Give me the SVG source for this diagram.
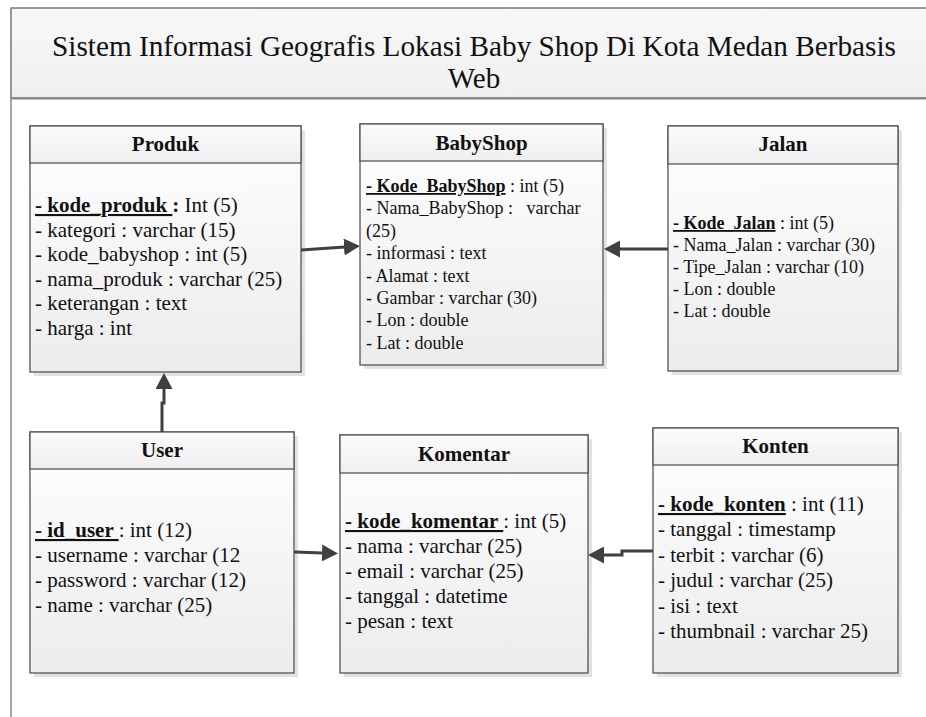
<svg xmlns="http://www.w3.org/2000/svg" width="926" height="717" viewBox="0 0 926 717">
  <style>
    text { font-family: "Liberation Serif", "Times New Roman", serif; fill: #111; white-space: pre; }
    .title { font-size: 29px; }
    .hdr { font-size: 21px; font-weight: bold; text-anchor: middle; }
    .f21 { font-size: 21px; }
    .f18 { font-size: 18px; }
    .pk { font-weight: bold; text-decoration: underline; }
    .b { font-weight: bold; }
    .box { fill: url(#bodyGrad); stroke: #555; stroke-width: 1.3; }
    .head { fill: url(#headGrad); stroke: #555; stroke-width: 1.3; }
    .shadow { fill: #e2e2e2; }
    .conn { fill: none; stroke: #404040; stroke-width: 3; marker-end: url(#arrow); }
  </style>
  <defs>
    <linearGradient id="bodyGrad" x1="0" y1="0" x2="0" y2="1">
      <stop offset="0" stop-color="#ffffff"/>
      <stop offset="1" stop-color="#ececec"/>
    </linearGradient>
    <linearGradient id="headGrad" x1="0" y1="0" x2="0" y2="1">
      <stop offset="0" stop-color="#fbfbfb"/>
      <stop offset="1" stop-color="#efefef"/>
    </linearGradient>
    <linearGradient id="titleGrad" x1="0" y1="0" x2="0" y2="1">
      <stop offset="0" stop-color="#f8f8f8"/>
      <stop offset="1" stop-color="#f0f0f0"/>
    </linearGradient>
    <marker id="arrow" viewBox="0 0 16 17" refX="1" refY="8.5" markerWidth="16" markerHeight="17" markerUnits="userSpaceOnUse" orient="auto">
      <path d="M0,0 L16,8.5 L0,17 z" fill="#404040"/>
    </marker>
  </defs>

  <!-- page frame and title band -->
  <g id="frame">
    <rect x="11" y="8" width="925" height="90" fill="url(#titleGrad)" stroke="#777" stroke-width="1.5"/>
    <line x1="11" y1="98" x2="11" y2="720" stroke="#888" stroke-width="1.5"/>
    <line x1="11" y1="98.5" x2="926" y2="98.5" stroke="#888" stroke-width="2"/>
    <text class="title" x="474" y="56" text-anchor="middle" textLength="844" lengthAdjust="spacingAndGlyphs">Sistem Informasi Geografis Lokasi Baby Shop Di Kota Medan Berbasis</text>
    <text class="title" x="474" y="88" text-anchor="middle">Web</text>
  </g>

  <!-- Produk -->
  <g id="produk">
    <rect class="shadow" x="34" y="130" width="271" height="246"/>
    <rect class="box" x="30" y="126" width="271" height="246"/>
    <rect class="head" x="30" y="126" width="271" height="37"/>
    <text class="hdr" x="165.5" y="151">Produk</text>
    <text class="f21" x="35" y="212"><tspan class="pk">- kode_produk </tspan><tspan class="b">:</tspan> Int (5)</text>
    <text class="f21" x="35" y="236.6">- kategori : varchar (15)</text>
    <text class="f21" x="35" y="261.2">- kode_babyshop : int (5)</text>
    <text class="f21" x="35" y="285.8">- nama_produk : varchar (25)</text>
    <text class="f21" x="35" y="310.4">- keterangan : text</text>
    <text class="f21" x="35" y="335">- harga : int</text>
  </g>

  <!-- BabyShop -->
  <g id="babyshop">
    <rect class="shadow" x="364" y="128" width="243" height="241"/>
    <rect class="box" x="360" y="124" width="243" height="241"/>
    <rect class="head" x="360" y="124" width="243" height="37"/>
    <text class="hdr" x="481.5" y="150">BabyShop</text>
    <text class="f18" x="366" y="192"><tspan class="pk">- Kode_BabyShop</tspan> : int (5)</text>
    <text class="f18" x="366" y="214.4">- Nama_BabyShop :   varchar</text>
    <text class="f18" x="366" y="236.8">(25)</text>
    <text class="f18" x="366" y="259.2">- informasi : text</text>
    <text class="f18" x="366" y="281.6">- Alamat : text</text>
    <text class="f18" x="366" y="304">- Gambar : varchar (30)</text>
    <text class="f18" x="366" y="326.4">- Lon : double</text>
    <text class="f18" x="366" y="348.8">- Lat : double</text>
  </g>

  <!-- Jalan -->
  <g id="jalan">
    <rect class="shadow" x="672" y="130" width="230" height="245"/>
    <rect class="box" x="668" y="126" width="230" height="245"/>
    <rect class="head" x="668" y="126" width="230" height="38"/>
    <text class="hdr" x="783" y="151">Jalan</text>
    <text class="f18" x="673" y="229"><tspan class="pk">- Kode_Jalan</tspan> : int (5)</text>
    <text class="f18" x="673" y="251">- Nama_Jalan : varchar (30)</text>
    <text class="f18" x="673" y="273">- Tipe_Jalan : varchar (10)</text>
    <text class="f18" x="673" y="295">- Lon : double</text>
    <text class="f18" x="673" y="317">- Lat : double</text>
  </g>

  <!-- User -->
  <g id="user">
    <rect class="shadow" x="34" y="436" width="264" height="241"/>
    <rect class="box" x="30" y="432" width="264" height="241"/>
    <rect class="head" x="30" y="432" width="264" height="37"/>
    <text class="hdr" x="162" y="457">User</text>
    <text class="f21" x="35" y="537"><tspan class="pk">- id_user </tspan>: int (12)</text>
    <text class="f21" x="35" y="562">- username : varchar (12</text>
    <text class="f21" x="35" y="587">- password : varchar (12)</text>
    <text class="f21" x="35" y="612">- name : varchar (25)</text>
  </g>

  <!-- Komentar -->
  <g id="komentar">
    <rect class="shadow" x="344" y="439" width="248" height="238"/>
    <rect class="box" x="340" y="435" width="248" height="238"/>
    <rect class="head" x="340" y="435" width="248" height="38"/>
    <text class="hdr" x="464" y="461">Komentar</text>
    <text class="f21" x="345" y="528"><tspan class="pk">- kode_komentar </tspan>: int (5)</text>
    <text class="f21" x="345" y="553">- nama : varchar (25)</text>
    <text class="f21" x="345" y="578">- email : varchar (25)</text>
    <text class="f21" x="345" y="603">- tanggal : datetime</text>
    <text class="f21" x="345" y="628">- pesan : text</text>
  </g>

  <!-- Konten -->
  <g id="konten">
    <rect class="shadow" x="657" y="432" width="245" height="245"/>
    <rect class="box" x="653" y="428" width="245" height="245"/>
    <rect class="head" x="653" y="428" width="245" height="37"/>
    <text class="hdr" x="775.5" y="453">Konten</text>
    <text class="f21" x="658" y="511"><tspan class="pk">- kode_konten</tspan> : int (11)</text>
    <text class="f21" x="658" y="536.4">- tanggal : timestamp</text>
    <text class="f21" x="658" y="561.8">- terbit : varchar (6)</text>
    <text class="f21" x="658" y="587.2">- judul : varchar (25)</text>
    <text class="f21" x="658" y="612.6">- isi : text</text>
    <text class="f21" x="658" y="638">- thumbnail : varchar 25)</text>
  </g>

  <!-- relationships -->
  <g id="connectors">
    <path class="conn" d="M301,250 L345,247"/>
    <path class="conn" d="M668,249 L619,249"/>
    <path class="conn" d="M162,432 L162,403 L164,403 L164,388"/>
    <path class="conn" d="M294,552 L323,553"/>
    <path class="conn" d="M653,551 L622,551 L622,555 L603,555"/>
  </g>
</svg>
